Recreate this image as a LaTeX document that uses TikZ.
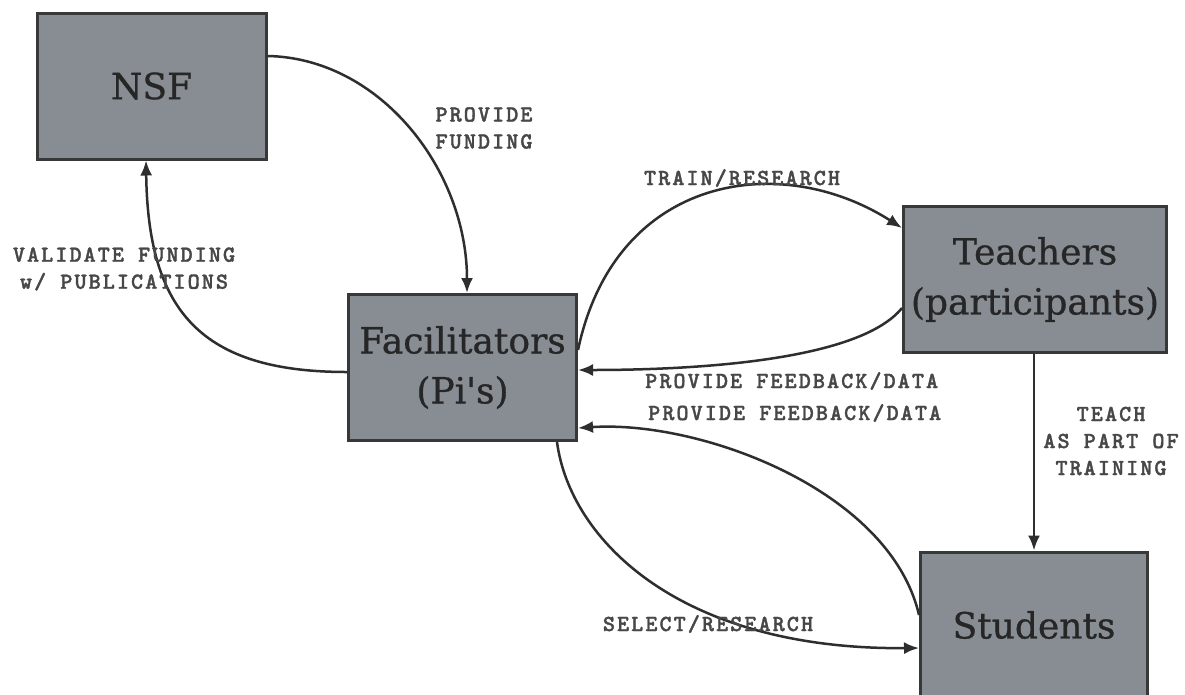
\documentclass[tikz,border=0pt]{standalone}
\usepackage{fontspec}
\setmainfont{DejaVu Serif}
\newfontfamily\boxfont{DejaVu Serif}[FakeBold=0.8]
\newfontfamily\lblfont{lmmonolt10-bold.otf}[LetterSpace=9,FakeBold=1.5]
\usetikzlibrary{arrows.meta}
\definecolor{boxfill}{HTML}{888D94}
\definecolor{boxline}{HTML}{383838}
\definecolor{boxtext}{HTML}{262626}
\definecolor{lbltext}{HTML}{474747}
\definecolor{wire}{HTML}{2E2E2E}
\tikzset{
  box/.style={draw=boxline, line width=3pt, fill=boxfill, text=boxtext,
    minimum width=228pt, minimum height=146pt, align=center, inner sep=0pt,
    font=\boxfont\fontsize{36}{50}\selectfont},
  lbl/.style={text=lbltext, align=center, inner sep=0pt,
    font=\lblfont\fontsize{23}{27}\selectfont},
  conn/.style={draw=wire, line width=2.5pt, -{Latex[length=15pt,width=12pt]}}
}
\begin{document}
\begin{tikzpicture}[x=1pt,y=-1pt]
\useasboundingbox (0,0) rectangle (1185,694);
\clip (0,0) rectangle (1185,694);
\fill[white] (0,0) rectangle (1185,694);
% boxes
\node[box, minimum width=229pt] (nsf) at (151.5,86) {NSF};
\node[box] (fac) at (462.5,367.5) {Facilitators\\(Pi's)};
\node[box, minimum width=263pt] (teach) at (1035,279.5) {Teachers\\(participants)};
\node[box, minimum width=227pt] (stud) at (1034,625) {Students};
% connectors
\draw[conn] ([yshift=30pt]nsf.east) .. controls (380,58) and (467,170) .. ([xshift=4.5pt]fac.north);
\draw[conn] ([yshift=-4.5pt]fac.west) .. controls (200,372) and (148,310) .. ([xshift=-5.5pt]nsf.south);
\draw[conn] ([yshift=17.5pt]fac.east) .. controls (615,175) and (780,150) .. ([yshift=51.5pt]teach.west);
\draw[conn] ([yshift=-28.5pt]teach.west) .. controls (860,360) and (700,370) .. ([yshift=-2.5pt]fac.east);
\draw[conn] ([yshift=10pt]stud.west) .. controls (890,490) and (700,420) .. ([yshift=-60.5pt]fac.east);
\draw[conn] ([xshift=94.5pt]fac.south) .. controls (570,540) and (680,650) .. ([yshift=-23pt]stud.west);
\draw[conn] ([xshift=-1pt]teach.south) -- ([xshift=-1pt]teach.south |- stud.north);
% labels
\node[lbl] (lfund) at (484,128) {PROVIDE\\FUNDING};
\node[lbl] (ltrain) at (742,178) {TRAIN/RESEARCH};
\node[lbl] (lvalid) at (124,269) {VALIDATE FUNDING\\w/ PUBLICATIONS};
\node[lbl, anchor=west] (lfb1) at (645,381) {PROVIDE FEEDBACK/DATA};
\node[lbl, anchor=west] (lfb2) at (648,413) {PROVIDE FEEDBACK/DATA};
\node[lbl] (lteach) at (1111,441) {TEACH\\AS PART OF\\TRAINING};
\node[lbl] (lselect) at (708,624) {SELECT/RESEARCH};
\end{tikzpicture}
\end{document}
